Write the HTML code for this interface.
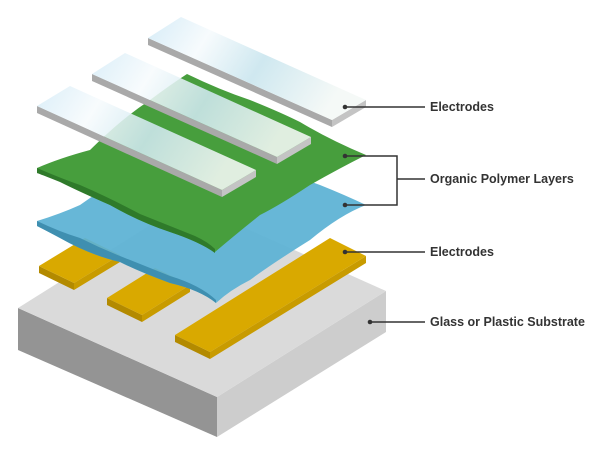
<!DOCTYPE html>
<html><head><meta charset="utf-8"><style>
html,body{margin:0;padding:0;background:#fff;}
svg{display:block}
text{font-family:"Liberation Sans",Arial,sans-serif;font-weight:bold;font-size:12.5px;fill:#333}
</style></head><body>
<svg width="606" height="456" viewBox="0 0 606 456" xmlns="http://www.w3.org/2000/svg">
<defs>
<linearGradient id="wg" x1="0" y1="0" x2="1" y2="0.3">
<stop offset="0" stop-color="#d6ecf7"/><stop offset="0.3" stop-color="#f7fbfd"/><stop offset="0.6" stop-color="#cfe8f0"/><stop offset="1" stop-color="#f5f9f7"/>
</linearGradient>
</defs>
<polygon points="18,308 217,397 217,437 18,350" fill="#949494"/>
<polygon points="217,397 386,291 386,332 217,437" fill="#cdcdcd"/>
<polygon points="18,308 187,202 386,291 217,397" fill="#dadada"/>
<g>
<polygon points="39,266 74,283 74,290 39,273" fill="#b38a00"/>
<polygon points="74,283 120,255 120,262 74,290" fill="#c89b00"/>
<polygon points="39,266 85,238 120,255 74,283" fill="#d9a900"/>
<polygon points="107,298 142,315 142,322 107,305" fill="#b38a00"/>
<polygon points="142,315 190,285 190,292 142,322" fill="#c89b00"/>
<polygon points="107,298 155,268 190,285 142,315" fill="#d9a900"/>
<polygon points="175,335 210,352 210,359 175,342" fill="#b38a00"/>
<polygon points="210,352 366,256 366,263 210,359" fill="#c89b00"/>
<polygon points="175,335 330,238 366,256 210,352" fill="#d9a900"/>
</g>
<path d="M37,221 Q60,214 80,205 Q130,170 187,128 Q230,150 260,160 Q300,178 320,185 Q345,195 366,205 Q340,215 310,240 Q270,265 250,280 Q230,290 216,303 Q200,290 170,283 Q140,272 120,262 Q90,255 60,238 Q45,230 37,226 Z" fill="#5bb1d4" fill-opacity="0.93"/>
<path d="M37,221 Q60,232 80,238 Q100,248 120,256 Q150,268 170,276 Q200,285 216,300 L216,303 Q200,290 170,283 Q140,272 120,262 Q90,255 60,238 Q45,230 37,226 Z" fill="#3f8fb0"/>
<path d="M37,168 Q60,158 90,150 Q120,120 150,100 Q170,85 187,74 Q220,90 250,100 Q280,112 300,122 Q330,140 366,155 Q340,168 310,185 Q280,205 260,215 Q235,235 215,252 Q195,240 170,232 Q140,222 110,205 Q80,192 60,180 Q45,175 37,173 Z" fill="#479e3d"/>
<path d="M37,168 Q60,178 80,185 Q110,198 140,214 Q170,226 195,236 Q208,242 215,249 L215,253 Q200,242 170,232 Q140,222 110,205 Q80,192 60,182 Q45,176 37,173 Z" fill="#2f7a2a"/>
<g>
<polygon points="148,38 332,120 332,127 148,45" fill="#a9a9a9"/>
<polygon points="332,120 366,100 366,107 332,127" fill="#c4c4c4"/>
<polygon points="148,38 181,17 366,100 332,120" fill="url(#wg)"/>
<polygon points="92,74 277,157 277,164 92,81" fill="#a9a9a9"/>
<polygon points="277,157 311,137 311,144 277,164" fill="#c4c4c4"/>
<polygon points="92,74 125,53 311,137 277,157" fill="url(#wg)" fill-opacity="0.88"/>
<polygon points="37,106 222,190 222,197 37,113" fill="#a9a9a9"/>
<polygon points="222,190 256,170 256,177 222,197" fill="#c4c4c4"/>
<polygon points="37,106 70,86 256,170 222,190" fill="url(#wg)" fill-opacity="0.88"/>
</g>
<g stroke="#333" stroke-width="1.5" fill="none">
<line x1="345" y1="107" x2="425" y2="107"/>
<polyline points="345,156 397,156 397,205 345,205"/>
<line x1="397" y1="179" x2="425" y2="179"/>
<line x1="345" y1="252" x2="425" y2="252"/>
<line x1="370" y1="322" x2="425" y2="322"/>
</g>
<g fill="#333">
<circle cx="345" cy="107" r="2.3"/><circle cx="345" cy="156" r="2.3"/><circle cx="345" cy="205" r="2.3"/><circle cx="345" cy="252" r="2.3"/><circle cx="370" cy="322" r="2.3"/>
</g>
<text x="430" y="111">Electrodes</text>
<text x="430" y="183">Organic Polymer Layers</text>
<text x="430" y="256">Electrodes</text>
<text x="430" y="326">Glass or Plastic Substrate</text>
</svg>
</body></html>
